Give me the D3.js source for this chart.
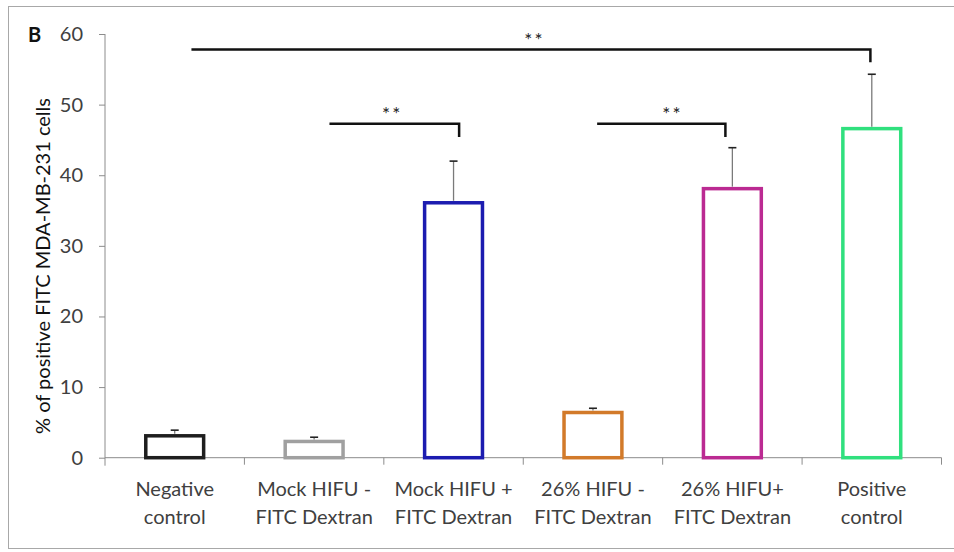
<!DOCTYPE html>
<html>
<head>
<meta charset="utf-8">
<script src="https://cdn.jsdelivr.net/npm/d3@7"></script>
<style>
  body { margin: 0; background: #fff; }
  text { font-family: Lato, "Open Sans", sans-serif; }
</style>
</head>
<body>
<div id="chart"></div>
<script>
const categories = [
  ["Negative", "control"],
  ["Mock HIFU -", "FITC Dextran"],
  ["Mock HIFU +", "FITC Dextran"],
  ["26% HIFU -", "FITC Dextran"],
  ["26% HIFU+", "FITC Dextran"],
  ["Positive", "control"]
];
const means = [3.1, 2.3, 36.1, 6.4, 38.1, 46.6];
const errors = [0.8, 0.6, 5.9, 0.6, 5.8, 7.7];
const barColors = ["#1e1e1e", "#a0a0a0", "#1c1cb0", "#d27a2a", "#bb2a92", "#30e07e"];
const yTicks = [0, 10, 20, 30, 40, 50, 60];
// significance brackets, x positions in category units (0..6 along the axis)
const brackets = [
  { start: 0.62, end: 5.49, mid: 3.08, level: 57.8, drop: 1.8, label: "**" },
  { start: 1.61, end: 2.54, mid: 2.06, level: 47.3, drop: 1.9, label: "**" },
  { start: 3.53, end: 4.45, mid: 4.07, level: 47.3, drop: 1.9, label: "**" }
];

const W = 954, H = 552;
const margin = { top: 34, right: 12, bottom: 94, left: 105 };
const axisRight = 941.5;

const svg = d3.select("#chart").append("svg")
    .attr("width", W)
    .attr("height", H);

// frame
svg.append("rect")
    .attr("x", 8.5).attr("y", 6.5)
    .attr("width", W).attr("height", 542)
    .attr("fill", "none")
    .attr("stroke", "#a8a8a8");

const x = d3.scaleBand()
    .domain(d3.range(categories.length))
    .range([margin.left, axisRight])
    .paddingInner(0.585)
    .paddingOuter(0.2925);

// continuous position along the category axis (for brackets)
const xc = d3.scaleLinear()
    .domain([0, categories.length])
    .range([margin.left, axisRight]);

const y = d3.scaleLinear()
    .domain([0, 60])
    .range([457.7, margin.top]);

// y axis
const yAxis = svg.append("g")
    .attr("transform", `translate(${margin.left},0)`)
    .call(d3.axisLeft(y).tickValues(yTicks).tickSize(6).tickPadding(16));
yAxis.select(".domain").attr("stroke", "#8c8c8c").attr("d", `M0,${y(60)}V${y(0) + 8}`);
yAxis.selectAll(".tick line").attr("stroke", "#8c8c8c");
yAxis.selectAll(".tick text")
    .attr("fill", "#404040")
    .style("font-size", "20px");

// x axis baseline and ticks
svg.append("line")
    .attr("x1", margin.left).attr("x2", axisRight)
    .attr("y1", y(0)).attr("y2", y(0))
    .attr("stroke", "#8c8c8c");
svg.selectAll("line.xtick")
    .data(d3.range(1, categories.length + 1))
    .join("line")
    .attr("class", "xtick")
    .attr("x1", d => xc(d)).attr("x2", d => xc(d))
    .attr("y1", y(0)).attr("y2", y(0) + 7)
    .attr("stroke", "#8c8c8c");

// category labels
svg.selectAll("text.cat")
    .data(categories)
    .join("text")
    .attr("class", "cat")
    .attr("text-anchor", "middle")
    .attr("fill", "#404040")
    .style("font-size", "20px")
    .each(function(d, i) {
      const cx = x(i) + x.bandwidth() / 2;
      d3.select(this).selectAll("tspan")
        .data(d)
        .join("tspan")
        .attr("x", cx)
        .attr("y", (t, j) => 496 + j * 28)
        .text(t => t);
    });

// bars (outlined)
svg.selectAll("rect.bar")
    .data(means)
    .join("rect")
    .attr("class", "bar")
    .attr("x", (d, i) => x(i))
    .attr("y", d => y(d))
    .attr("width", x.bandwidth())
    .attr("height", d => y(0) - y(d))
    .attr("fill", "none")
    .attr("stroke", (d, i) => barColors[i])
    .attr("stroke-width", 3.5);

// error bars
const eb = svg.selectAll("g.err")
    .data(means)
    .join("g")
    .attr("class", "err");
eb.append("line")
    .attr("x1", (d, i) => x(i) + x.bandwidth() / 2)
    .attr("x2", (d, i) => x(i) + x.bandwidth() / 2)
    .attr("y1", d => y(d) - 2)
    .attr("y2", (d, i) => y(d + errors[i]))
    .attr("stroke", "#7a7a7a")
    .attr("stroke-width", 1.3);
eb.append("line")
    .attr("x1", (d, i) => x(i) + x.bandwidth() / 2 - 4)
    .attr("x2", (d, i) => x(i) + x.bandwidth() / 2 + 4)
    .attr("y1", (d, i) => y(d + errors[i]))
    .attr("y2", (d, i) => y(d + errors[i]))
    .attr("stroke", "#222")
    .attr("stroke-width", 1.6);

// significance brackets
const br = svg.selectAll("g.bracket")
    .data(brackets)
    .join("g")
    .attr("class", "bracket");
br.append("path")
    .attr("d", d => `M${xc(d.start)},${y(d.level)}H${xc(d.end)}V${y(d.level - d.drop)}`)
    .attr("fill", "none")
    .attr("stroke", "#111")
    .attr("stroke-width", 2.5);
br.append("text")
    .attr("x", d => xc(d.mid))
    .attr("y", d => y(d.level) - 3)
    .attr("text-anchor", "middle")
    .attr("fill", "#222")
    .style("font-size", "19px")
    .style("letter-spacing", "2px")
    .text(d => d.label);

// y axis title
svg.append("text")
    .attr("transform", `translate(50,266) rotate(-90)`)
    .attr("text-anchor", "middle")
    .attr("fill", "#111")
    .style("font-size", "20px")
    .text("% of positive FITC MDA-MB-231 cells");

// panel letter
svg.append("text")
    .attr("x", 28).attr("y", 42)
    .attr("fill", "#111")
    .style("font-size", "20px")
    .style("font-weight", "bold")
    .text("B");
</script>
</body>
</html>
